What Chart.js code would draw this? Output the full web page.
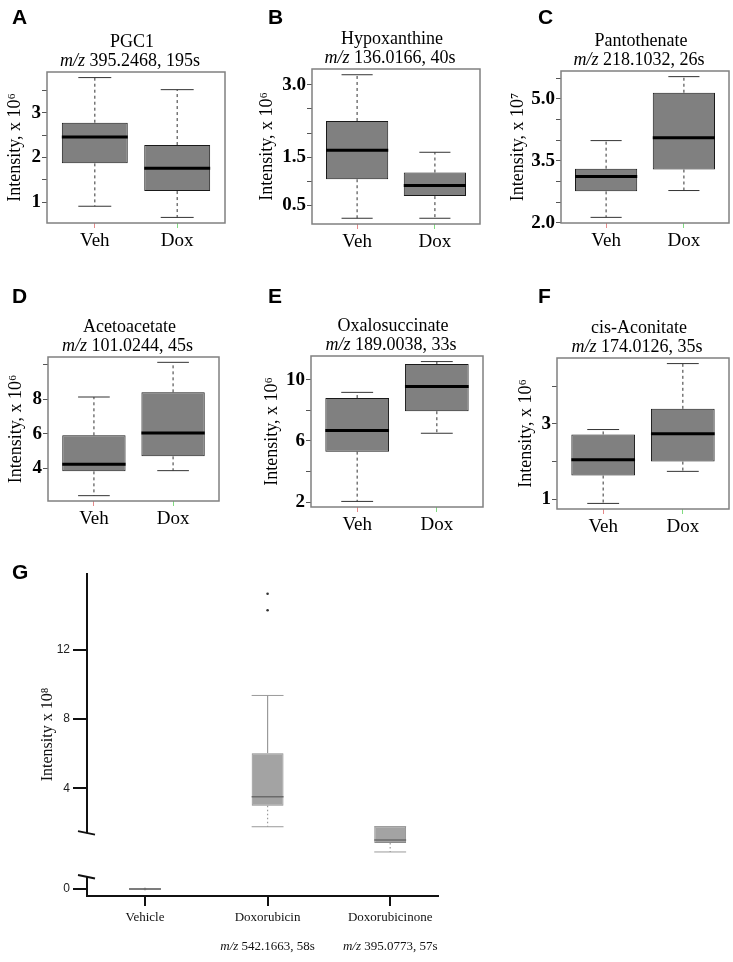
<!DOCTYPE html>
<html>
<head>
<meta charset="utf-8">
<script src="https://cdn.jsdelivr.net/npm/chart.js@4.4.1/dist/chart.umd.min.js"></script>
<style>
  body { margin: 0; background: #fff; }
  #fig { position: relative; width: 733px; height: 962px; overflow: hidden; }
  .letter { position: absolute; font: bold 21px 'Liberation Sans', Arial, sans-serif; line-height: 1; color: #000; }
</style>
</head>
<body>
<div id="fig">
  <div class="letter" style="left:12px;top:6px">A</div>
  <div class="letter" style="left:268px;top:6px">B</div>
  <div class="letter" style="left:538px;top:6px">C</div>
  <div class="letter" style="left:12px;top:285px">D</div>
  <div class="letter" style="left:268px;top:285px">E</div>
  <div class="letter" style="left:538px;top:285px">F</div>
  <div class="letter" style="left:12px;top:561px">G</div>
</div>
<script>
const SERIF = "'Liberation Serif', 'Times New Roman', serif";
const SANS = "'Liberation Sans', Arial, sans-serif";

// Panels A-F
const groups = ['Veh', 'Dox'];
const panelNames = ['PGC1', 'Hypoxanthine', 'Pantothenate', 'Acetoacetate', 'Oxalosuccinate', 'cis-Aconitate'];
const panelMz = ['395.2468, 195s', '136.0166, 40s', '218.1032, 26s', '101.0244, 45s', '189.0038, 33s', '174.0126, 35s'];
const panelExp = ['⁶', '⁶', '⁷', '⁶', '⁶', '⁶'];

// [lower whisker, Q1, median, Q3, upper whisker]
const pgc1Veh = [0.91, 1.87, 2.46, 2.78, 3.79];
const pgc1Dox = [0.66, 1.25, 1.76, 2.28, 3.52];
const hypoVeh = [0.23, 1.04, 1.64, 2.25, 3.21];
const hypoDox = [0.23, 0.69, 0.91, 1.18, 1.60];
const pantoVeh = [2.13, 2.76, 3.12, 3.31, 3.99];
const pantoDox = [2.78, 3.29, 4.06, 5.15, 5.54];
const acetoVeh = [2.42, 3.83, 4.24, 5.92, 8.14];
const acetoDox = [3.87, 4.70, 6.06, 8.41, 10.15];
const oxaloVeh = [2.05, 5.30, 6.68, 8.80, 9.17];
const oxaloDox = [6.50, 7.94, 9.56, 11.02, 11.18];
const aconVeh = [0.89, 1.63, 2.05, 2.72, 2.85];
const aconDox = [1.74, 2.00, 2.74, 3.40, 4.60];

// y ticks and their labels
const pgc1Ticks = [1, 1.5, 2, 2.5, 3, 3.5];
const pgc1Labels = ['1', '', '2', '', '3', ''];
const hypoTicks = [0.5, 1, 1.5, 2, 2.5, 3];
const hypoLabels = ['0.5', '', '1.5', '', '', '3.0'];
const pantoTicks = [2, 2.5, 3, 3.5, 4, 4.5, 5, 5.5];
const pantoLabels = ['2.0', '', '', '3.5', '', '', '5.0', ''];
const acetoTicks = [4, 6, 8, 10];
const acetoLabels = ['4', '6', '8', ''];
const oxaloTicks = [2, 4, 6, 8, 10];
const oxaloLabels = ['2', '', '6', '', '10'];
const aconTicks = [1, 2, 3, 4];
const aconLabels = ['1', '', '3', ''];

// Panel G
const gCategories = ['Vehicle', 'Doxorubicin', 'Doxorubicinone'];
const gSubLabels = ['', '542.1663, 58s', '395.0773, 57s'];
const gVehicle = [0, 0, 0, 0, 0];
const gDoxorubicin = [1.77, 2.99, 3.50, 6.03, 9.37];
const gDoxorubicinone = [0.31, 0.83, 1.00, 1.78, 1.78];
const gOutliers = [15.26, 14.30];
const gTicks = [4, 8, 12];
const gRange = [-2.24, 16.46];      // upper axis segment
const gZeroRange = [-0.35, 15.8];   // lower axis segment (holds 0)
const gBreak = [1.4, 0.6];          // where upper segment ends / lower segment starts

const xTickColors = ['#e58a8a', '#80dc80'];

function line(ctx, x1, y1, x2, y2) {
  ctx.beginPath(); ctx.moveTo(x1, y1); ctx.lineTo(x2, y2); ctx.stroke();
}

const boxPlugin = {
  id: 'boxes',
  afterDatasetsDraw(chart) {
    const ctx = chart.ctx;
    chart.data.datasets.forEach((ds, di) => {
      if (!ds.stats) return;
      const meta = chart.getDatasetMeta(di);
      const ys = chart.scales[meta.yAxisID];
      meta.data.forEach((bar, i) => {
        const [lo, q1, med, q3, hi] = ds.stats[i].map(v => ys.getPixelForValue(v));
        const x = bar.x, hw = bar.width / 2, cw = hw * ds.capRatio;
        ctx.save();
        ctx.lineWidth = 1.2;
        ctx.strokeStyle = ds.whiskerColor;
        ctx.setLineDash(ds.upperDash);
        if (hi < q3) line(ctx, x, q3, x, hi);
        ctx.setLineDash(ds.lowerDash);
        if (lo > q1) line(ctx, x, q1, x, lo);
        ctx.setLineDash([]);
        ctx.lineWidth = 1;
        ctx.strokeStyle = ds.capColor;
        line(ctx, x - cw, hi, x + cw, hi);
        line(ctx, x - cw, lo, x + cw, lo);
        ctx.strokeStyle = ds.medianColor;
        ctx.lineWidth = ds.medianWidth;
        line(ctx, x - hw, med, x + hw, med);
        ctx.restore();
      });
    });
  }
};

const titlePlugin = {
  id: 'panelTitle',
  afterDraw(chart, args, opts) {
    const { ctx, chartArea: a } = chart;
    ctx.save();
    ctx.strokeStyle = '#808080';
    ctx.lineWidth = 1.5;
    ctx.strokeRect(a.left, a.top, a.right - a.left, a.bottom - a.top);
    const cx = (a.left + a.right) / 2;
    ctx.fillStyle = '#000';
    ctx.textBaseline = 'middle';
    ctx.textAlign = 'left';
    ctx.font = `18px ${SERIF}`;
    const w1 = ctx.measureText(opts.name).width;
    ctx.fillText(opts.name, cx - 4 - w1 / 2, a.top - 30);
    ctx.font = `italic 18px ${SERIF}`;
    const wi = ctx.measureText('m/z').width;
    ctx.font = `18px ${SERIF}`;
    const rest = ' ' + opts.mz;
    const wr = ctx.measureText(rest).width;
    const x0 = cx - 6 - (wi + wr) / 2;
    ctx.font = `italic 18px ${SERIF}`;
    ctx.fillText('m/z', x0, a.top - 11);
    ctx.font = `18px ${SERIF}`;
    ctx.fillText(rest, x0 + wi, a.top - 11);
    ctx.restore();
  }
};

function addCanvas(box) {
  const cv = document.createElement('canvas');
  cv.width = box[2];
  cv.height = box[3];
  cv.style.cssText = `position:absolute;left:${box[0]}px;top:${box[1]}px`;
  document.getElementById('fig').appendChild(cv);
  return cv;
}

function boxChart(p) {
  const [cl, ct, cw, ch] = p.canvas;
  const [l, t, r, b] = p.plot;
  const cv = addCanvas(p.canvas);
  const padLeft = p.titleX - cl - 10.8;
  const all = p.stats.flat();
  const lo = Math.min(...all), hi = Math.max(...all), ext = (hi - lo) * 0.04;
  new Chart(cv, {
    type: 'bar',
    data: {
      datasets: [{
        data: p.stats.map((s, i) => ({ x: i + 1, y: [s[1], s[3]] })),
        stats: p.stats,
        backgroundColor: '#808080',
        borderColor: '#1a1a1a',
        borderWidth: 1,
        borderSkipped: false,
        categoryPercentage: 0.8,
        barPercentage: 1,
        whiskerColor: '#555',
        capColor: '#333',
        medianColor: '#000',
        medianWidth: 3,
        capRatio: 0.5,
        upperDash: [3, 3],
        lowerDash: [3, 3]
      }]
    },
    options: {
      responsive: false,
      animation: false,
      layout: { padding: { left: padLeft, top: t - ct, right: cl + cw - r, bottom: 0 } },
      plugins: {
        legend: { display: false },
        tooltip: { enabled: false },
        panelTitle: { name: p.name, mz: p.mz }
      },
      scales: {
        x: {
          type: 'linear', min: 0.42, max: 2.58, offset: false,
          afterBuildTicks: s => { s.ticks = [{ value: 1 }, { value: 2 }]; },
          afterFit: s => { s.height = ch - (b - ct); },
          grid: { offset: false, drawOnChartArea: false, tickLength: 5, color: c => xTickColors[c.index] },
          border: { display: false },
          ticks: { autoSkip: false, maxRotation: 0, padding: 2, color: '#000',
                   font: { family: SERIF, size: 19 }, callback: (v, i) => groups[i] }
        },
        y: {
          min: lo - ext, max: hi + ext, beginAtZero: false,
          afterBuildTicks: s => { s.ticks = p.ticks.map(v => ({ value: v })); },
          afterFit: s => { s.width = l - cl - padLeft; },
          grid: { drawOnChartArea: false, tickLength: 5, color: '#555' },
          border: { display: false },
          ticks: { autoSkip: false, padding: 1, color: '#000',
                   font: { family: SERIF, size: 19, weight: 'bold' }, callback: (v, i) => p.labels[i] },
          title: { display: true, text: 'Intensity, x 10' + p.exp, color: '#000',
                   font: { family: SERIF, size: 18 }, padding: 0 }
        }
      }
    },
    plugins: [boxPlugin, titlePlugin]
  });
}

const panels = [
  { canvas: [0, 0, 240, 270], plot: [47, 72, 225, 223], titleX: 15.5, stats: [pgc1Veh, pgc1Dox], ticks: pgc1Ticks, labels: pgc1Labels },
  { canvas: [240, 0, 245, 270], plot: [312, 69, 480, 224], titleX: 267, stats: [hypoVeh, hypoDox], ticks: hypoTicks, labels: hypoLabels },
  { canvas: [485, 0, 248, 270], plot: [561, 71, 729, 223], titleX: 518, stats: [pantoVeh, pantoDox], ticks: pantoTicks, labels: pantoLabels },
  { canvas: [0, 280, 240, 255], plot: [48, 357, 219, 501], titleX: 16, stats: [acetoVeh, acetoDox], ticks: acetoTicks, labels: acetoLabels },
  { canvas: [240, 280, 245, 255], plot: [311, 356, 483, 507], titleX: 272, stats: [oxaloVeh, oxaloDox], ticks: oxaloTicks, labels: oxaloLabels },
  { canvas: [485, 280, 248, 255], plot: [557, 358, 729, 509], titleX: 526, stats: [aconVeh, aconDox], ticks: aconTicks, labels: aconLabels }
];
panels.forEach((p, i) => boxChart({ ...p, name: panelNames[i], mz: panelMz[i], exp: panelExp[i] }));

// Panel G: broken y axis
const gAxisPlugin = {
  id: 'gAxis',
  afterDraw(chart) {
    const { ctx, chartArea: a, scales: { x, y, y0 } } = chart;
    const ax = a.left;
    const yUp = y.getPixelForValue(gBreak[0]);
    const yLow = y0.getPixelForValue(gBreak[1]);
    ctx.save();
    ctx.strokeStyle = '#111';
    ctx.lineWidth = 2;
    line(ctx, ax, a.top, ax, yUp);
    line(ctx, ax, yLow, ax, a.bottom);
    line(ctx, ax - 9, yUp - 2, ax + 8, yUp + 1.5);
    line(ctx, ax - 9, yLow - 2, ax + 8, yLow + 1.5);
    const z = y0.getPixelForValue(0);
    line(ctx, ax - 14, z, ax, z);
    ctx.fillStyle = '#222';
    ctx.font = `12px ${SANS}`;
    ctx.textAlign = 'right';
    ctx.textBaseline = 'middle';
    ctx.fillText('0', ax - 17, z);
    ctx.textAlign = 'left';
    gSubLabels.forEach((txt, i) => {
      if (!txt) return;
      const cx = x.getPixelForValue(i);
      ctx.font = `italic 13px ${SERIF}`;
      const wi = ctx.measureText('m/z').width;
      ctx.font = `13px ${SERIF}`;
      const wr = ctx.measureText(' ' + txt).width;
      const x0 = cx - (wi + wr) / 2;
      ctx.fillStyle = '#111';
      ctx.font = `italic 13px ${SERIF}`;
      ctx.fillText('m/z', x0, 947);
      ctx.font = `13px ${SERIF}`;
      ctx.fillText(' ' + txt, x0 + wi, 947);
    });
    ctx.restore();
  }
};

(function () {
  const box = [0, 0, 470, 962];
  const cv = addCanvas(box);
  const gBoxStyle = {
    backgroundColor: '#a3a3a3',
    borderColor: '#8a8a8a',
    borderWidth: 1,
    borderSkipped: false,
    grouped: false,
    categoryPercentage: 0.26,
    barPercentage: 1,
    whiskerColor: '#9a9a9a',
    capColor: '#9a9a9a',
    medianColor: '#6a6a6a',
    medianWidth: 1.5,
    capRatio: 1,
    upperDash: [],
    lowerDash: [1.5, 2.5]
  };
  new Chart(cv, {
    type: 'bar',
    data: {
      datasets: [
        { ...gBoxStyle, yAxisID: 'y0', data: [{ x: 0, y: [gVehicle[1], gVehicle[3]] }], stats: [gVehicle] },
        { ...gBoxStyle, yAxisID: 'y',
          data: [{ x: 1, y: [gDoxorubicin[1], gDoxorubicin[3]] }, { x: 2, y: [gDoxorubicinone[1], gDoxorubicinone[3]] }],
          stats: [gDoxorubicin, gDoxorubicinone] },
        { type: 'scatter', yAxisID: 'y', data: gOutliers.map(v => ({ x: 1, y: v })),
          pointRadius: 1.3, backgroundColor: '#333', borderWidth: 0 },
        { type: 'scatter', yAxisID: 'y0', data: [{ x: 0, y: gVehicle[2] }],
          pointRadius: 1.3, backgroundColor: '#333', borderWidth: 0 }
      ]
    },
    options: {
      responsive: false,
      animation: false,
      layout: { padding: { left: 30, top: 573, right: 470 - 438, bottom: 0 } },
      plugins: { legend: { display: false }, tooltip: { enabled: false } },
      scales: {
        x: {
          type: 'linear', min: -0.473, max: 2.39, offset: false,
          afterBuildTicks: s => { s.ticks = gCategories.map((c, i) => ({ value: i })); },
          afterFit: s => { s.height = 962 - 896; },
          grid: { offset: false, drawOnChartArea: false, tickLength: 10, color: '#111', lineWidth: 2 },
          border: { display: true, color: '#111', width: 2 },
          ticks: { autoSkip: false, maxRotation: 0, padding: 4, color: '#111',
                   font: { family: SERIF, size: 13 }, callback: (v, i) => gCategories[i] }
        },
        y: {
          position: 'left', min: gRange[0], max: gRange[1], beginAtZero: false,
          afterBuildTicks: s => { s.ticks = gTicks.map(v => ({ value: v })); },
          afterFit: s => { s.width = 87 - 30; },
          grid: { drawOnChartArea: false, tickLength: 14, color: '#111', lineWidth: 2 },
          border: { display: false },
          ticks: { autoSkip: false, padding: 3, color: '#222', font: { family: SANS, size: 12 } },
          title: { display: true, text: 'Intensity x 10⁸', color: '#111',
                   font: { family: SERIF, size: 16 }, padding: { top: 8 } }
        },
        y0: { position: 'left', display: false, min: gZeroRange[0], max: gZeroRange[1], beginAtZero: false }
      }
    },
    plugins: [boxPlugin, gAxisPlugin]
  });
  cv.style.zIndex = '-1';
})();
</script>
</body>
</html>
